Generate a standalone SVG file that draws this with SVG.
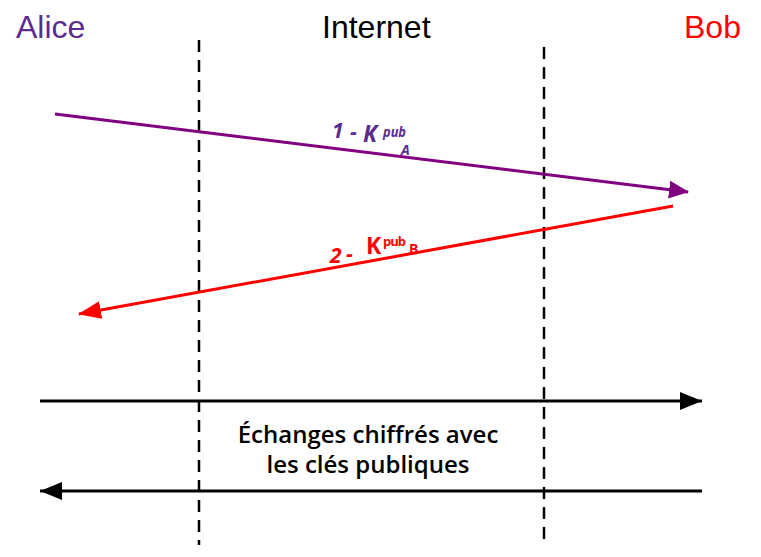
<svg xmlns="http://www.w3.org/2000/svg" width="761" height="557" viewBox="0 0 761 557">
<defs>
<marker id="ahP" markerUnits="userSpaceOnUse" markerWidth="22" markerHeight="20" refX="19" refY="9" orient="auto"><path d="M0,0 L20,9 L0,18 Z" fill="#800080"/></marker>
<marker id="ahR" markerUnits="userSpaceOnUse" markerWidth="24" markerHeight="20" refX="22" refY="9" orient="auto"><path d="M0,0 L23,9 L0,18 Z" fill="#ff0000"/></marker>
<marker id="ahK" markerUnits="userSpaceOnUse" markerWidth="24" markerHeight="20" refX="22" refY="9" orient="auto"><path d="M0,0 L22,9 L0,18 Z" fill="#000000"/></marker>
</defs>
<style>
.title{font-family:"Liberation Sans",Arial,sans-serif;font-size:32px}
.dash{stroke:#000;stroke-width:2.5;stroke-dasharray:12 8;fill:none}
.lbl{font-family:"Open Sans","Liberation Sans",sans-serif;font-weight:bold;font-size:21px}
.big{font-size:23px}
.sm{font-size:14px}
.p{fill:#5b2c8f;font-style:italic}
.r{fill:#ff0000}
.mid{font-family:"Open Sans","Liberation Sans",sans-serif;font-weight:600;font-size:24px;text-anchor:middle;fill:#000}
</style>
<rect width="761" height="557" fill="#ffffff"/>
<g id="alice"><text class="title" x="16" y="38" fill="#5b2c8f">Alice</text></g>
<g id="internet"><text class="title" x="322" y="38" fill="#000">Internet</text></g>
<g id="bob"><text class="title" x="684" y="38" fill="#ff0000">Bob</text></g>
<g id="boundaries">
<line class="dash" x1="199" y1="40" x2="199" y2="545"/>
<line class="dash" x1="544" y1="47" x2="544" y2="545"/>
</g>
<g id="connectors">
<line x1="55" y1="114" x2="688" y2="192" stroke="#800080" stroke-width="3" marker-end="url(#ahP)"/>
<line x1="673" y1="206" x2="79" y2="314" stroke="#ff0000" stroke-width="3" marker-end="url(#ahR)"/>
<line x1="40" y1="401" x2="702" y2="401" stroke="#000" stroke-width="3" marker-end="url(#ahK)"/>
<line x1="702" y1="491" x2="40" y2="491" stroke="#000" stroke-width="3" marker-end="url(#ahK)"/>
</g>
<g id="label1" class="lbl p">
<text x="332" y="138">1</text>
<text x="350" y="139">-</text>
<text class="big" x="363" y="142">K</text>
<text class="sm" x="383" y="137" textLength="23" lengthAdjust="spacingAndGlyphs">pub</text>
<text class="sm" x="401" y="155">A</text>
</g>
<g id="label2" class="lbl r">
<text x="330" y="263" font-style="italic">2</text>
<text x="346" y="261" font-style="italic">-</text>
<text class="big" x="366" y="254">K</text>
<text x="383" y="246" font-size="13" letter-spacing="-1">pub</text>
<text class="sm" x="409" y="254">B</text>
</g>
<g id="caption">
<text class="mid" x="368" y="443">Échanges chiffrés avec</text>
<text class="mid" x="368" y="473">les clés publiques</text>
</g>
</svg>
